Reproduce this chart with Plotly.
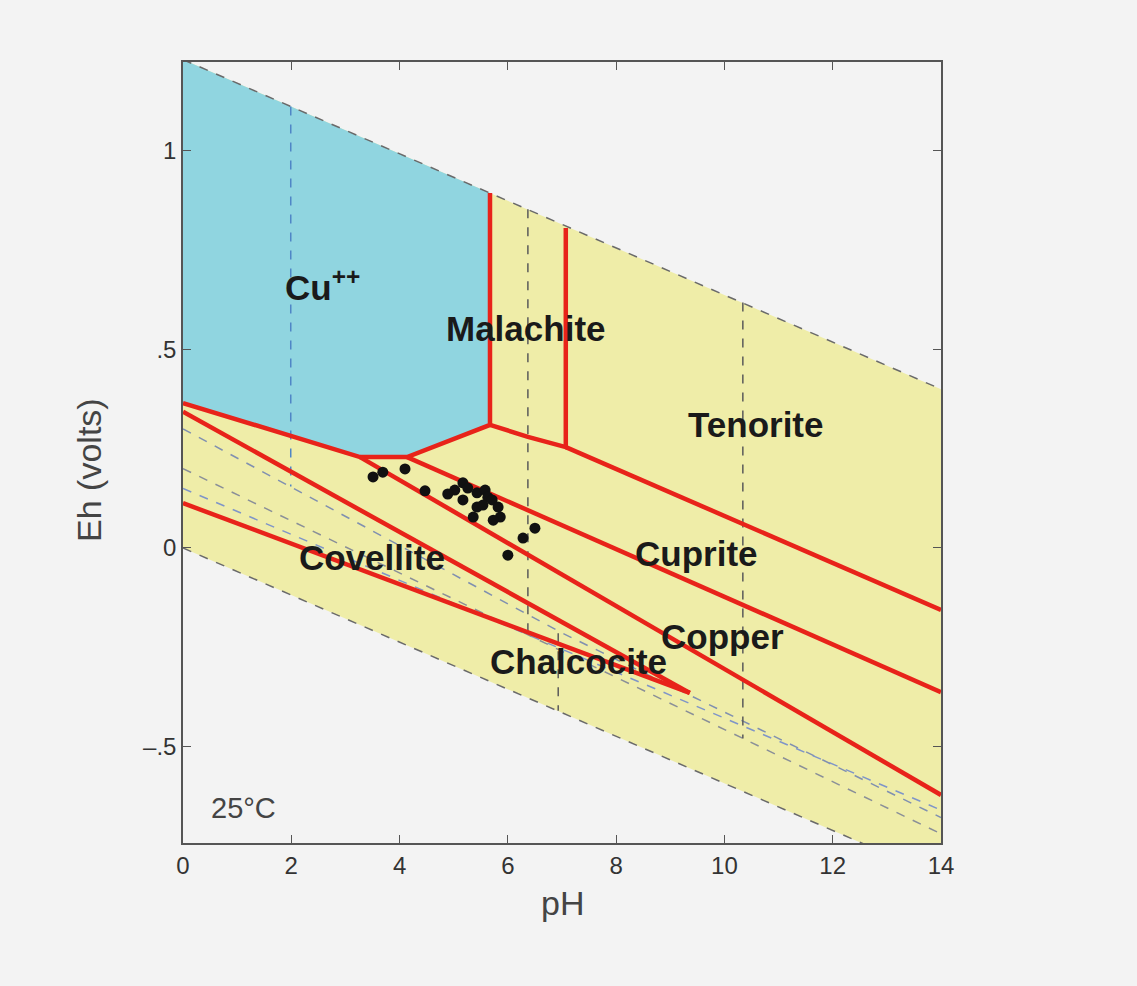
import plotly.graph_objects as go

# ---------------- data ----------------
ph_ticks = [0, 2, 4, 6, 8, 10, 12, 14]
eh_ticks = [-0.5, 0.0, 0.5, 1.0]
eh_ticktext = ["\u2013.5", "0", ".5", "1"]

# water stability limits
water_ph = [0, 14]
water_upper_eh = [1.23, 0.40]
water_lower_eh = [0.0, -0.83]

# Cu++ field outline
cu_field_ph = [0, 5.67, 5.67, 4.14, 3.27, 0]
cu_field_eh = [1.23, 0.894, 0.31, 0.229, 0.229, 0.365]

# red phase boundaries
cu_boundary_ph = [0, 3.27, 4.14, 5.67, 5.67]
cu_boundary_eh = [0.365, 0.229, 0.229, 0.31, 0.894]
malachite_base_ph = [5.67, 6.37, 7.07, 7.07]
malachite_base_eh = [0.31, 0.28, 0.254, 0.806]
tenorite_ph = [7.07, 14]
tenorite_eh = [0.254, -0.156]
cuprite_ph = [4.14, 14]
cuprite_eh = [0.229, -0.363]
copper_ph = [3.27, 14]
copper_eh = [0.229, -0.622]
covellite_ph = [0, 9.36]
covellite_eh = [0.343, -0.365]
chalcocite_ph = [0, 9.36]
chalcocite_eh = [0.113, -0.365]

# dashed aqueous-species boundaries
so4_ph = [0, 7, 14]
so4_eh = [0.30, -0.214, -0.679]
s2_ph = [0, 14]
s2_eh = [0.20, -0.72]
s3_ph = [0, 14]
s3_eh = [0.15, -0.66]
hso4_ph = [1.99, 1.99]
hso4_eh = [1.112, 0.155]
h2co3_ph = [6.37, 6.37]
h2co3_eh = [0.853, -0.225]
h2s_ph = [6.93, 6.93]
h2s_eh = [-0.215, -0.41]
hco3_ph = [10.34, 10.34]
hco3_eh = [0.618, -0.48]

# samples
sample_ph = [3.51, 3.69, 4.10, 4.47, 5.02, 5.17, 5.26, 5.43, 5.58, 5.63, 5.17,
             5.43, 5.54, 5.71, 5.82, 5.86, 5.36, 6.28, 6.50, 6.00, 4.89, 5.73]
sample_eh = [0.179, 0.191, 0.199, 0.144, 0.146, 0.164, 0.151, 0.139, 0.146, 0.128, 0.121,
             0.103, 0.108, 0.121, 0.103, 0.078, 0.078, 0.025, 0.050, -0.018, 0.136, 0.070]

# field labels
label_text = ["Cu<sup>++</sup>", "Malachite", "Tenorite", "Cuprite", "Covellite", "Copper", "Chalcocite"]
label_ph = [2.57, 6.34, 10.57, 9.49, 3.49, 9.96, 7.30]
label_eh = [0.662, 0.552, 0.31, -0.013, -0.023, -0.224, -0.287]

# ---------------- figure ----------------
RED = "#e8231a"
FONT = "Liberation Sans, Arial"
fig = go.Figure()

# yellow stability field
fig.add_trace(go.Scatter(
    x=water_ph + water_ph[::-1],
    y=water_upper_eh + water_lower_eh[::-1],
    fill="toself", fillcolor="#efeda8", mode="none", hoverinfo="skip"))
# Cu++ field
fig.add_trace(go.Scatter(
    x=cu_field_ph, y=cu_field_eh, fill="toself", fillcolor="#90d5e0",
    mode="none", hoverinfo="skip"))

def dashed(xs, ys, color, width=1.5):
    fig.add_trace(go.Scatter(x=xs, y=ys, mode="lines",
                             line=dict(color=color, width=width, dash="dash"),
                             hoverinfo="skip"))

dashed(water_ph, water_upper_eh, "#6a6a6a")
dashed(water_ph, water_lower_eh, "#6a6a6a")
dashed(so4_ph, so4_eh, "#8090b0")
dashed(s2_ph, s2_eh, "#8a8f98")
dashed(s3_ph, s3_eh, "#7f95c8")
dashed(hso4_ph, hso4_eh, "#4f86c6")
dashed(h2co3_ph, h2co3_eh, "#5a5a5a")
dashed(h2s_ph, h2s_eh, "#5a5a5a")
dashed(hco3_ph, hco3_eh, "#5a5a5a")

for xs, ys in [(cu_boundary_ph, cu_boundary_eh), (malachite_base_ph, malachite_base_eh),
               (tenorite_ph, tenorite_eh), (cuprite_ph, cuprite_eh), (copper_ph, copper_eh),
               (covellite_ph, covellite_eh), (chalcocite_ph, chalcocite_eh)]:
    fig.add_trace(go.Scatter(x=xs, y=ys, mode="lines",
                             line=dict(color=RED, width=4.5), hoverinfo="skip"))

fig.add_trace(go.Scatter(x=sample_ph, y=sample_eh, mode="markers",
                         marker=dict(color="#111111", size=11), hoverinfo="skip"))

for t, x, y in zip(label_text, label_ph, label_eh):
    fig.add_annotation(x=x, y=y, text="<b>" + t + "</b>", showarrow=False,
                       font=dict(family=FONT, size=35, color="#1a1a1a"))

fig.add_annotation(x=1.11, y=-0.655, text="25\u00b0C", showarrow=False,
                   font=dict(family=FONT, size=29, color="#444444"))

fig.add_annotation(xref="paper", yref="paper", x=0.5, y=-0.077, text="pH",
                   xanchor="center", yanchor="middle",
                   showarrow=False, font=dict(family=FONT, size=34, color="#444444"))
fig.add_annotation(xref="paper", yref="paper", x=-0.125, y=0.478, text="Eh (volts)",
                   xanchor="center", yanchor="middle",
                   textangle=-90, showarrow=False,
                   font=dict(family=FONT, size=34, color="#444444"))

axis_common = dict(showgrid=False, zeroline=False, showline=True, linecolor="#555555",
                   linewidth=1.5, mirror="ticks", ticks="inside", ticklen=8,
                   tickcolor="#555555", tickwidth=1.2,
                   tickfont=dict(family=FONT, size=24, color="#333333"))

fig.update_xaxes(range=[0, 14], tickvals=ph_ticks, **axis_common)
fig.update_yaxes(range=[-0.743, 1.224], tickvals=eh_ticks, ticktext=eh_ticktext, **axis_common)

fig.update_layout(
    width=1137, height=986, showlegend=False,
    margin=dict(l=183, r=196, t=62, b=143),
    paper_bgcolor="#f3f3f3", plot_bgcolor="#f3f3f3",
)

fig.write_html("out.html")
